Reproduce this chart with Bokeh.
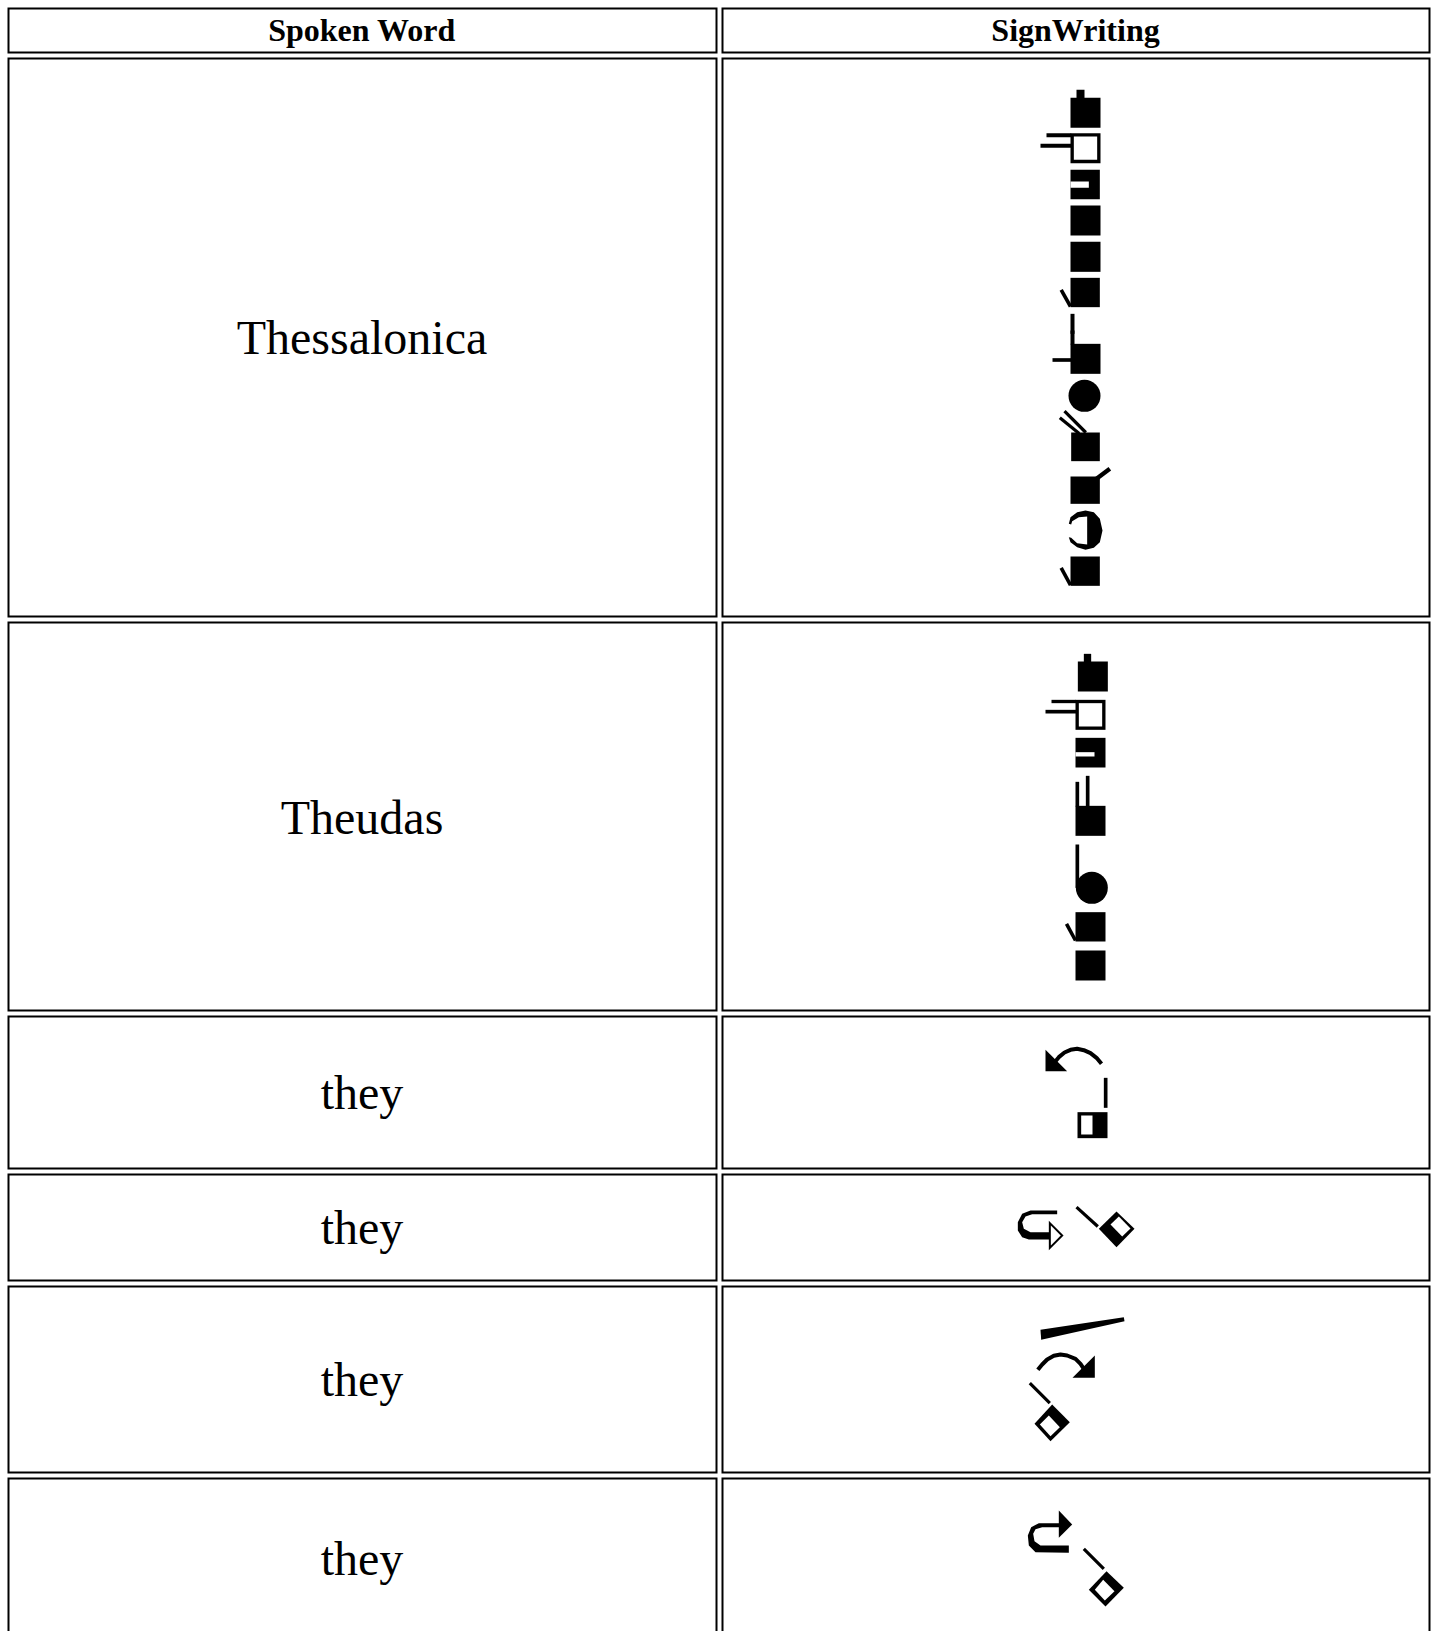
from bokeh.plotting import figure
from bokeh.embed import file_html
from bokeh.resources import INLINE
from bokeh.core.properties import value

# ---- table content ----
headers = ["Spoken Word", "SignWriting"]
words = ["Thessalonica", "Theudas", "they", "they", "they", "they"]
word_baselines = [337, 817, 1092, 1227, 1379, 1558]
header_baseline = 29
col_edges = [(8, 716), (722, 1429)]
row_edges = [(8, 52), (58, 616), (622, 1010), (1016, 1168), (1174, 1280), (1286, 1472), (1478, 1680)]
border = 1  # half the 2px cell border

# ---- SignWriting marks as (origin, shapes) ----
# origin = crop origin; coordinates are 3x crop units
O1, O2, O3, O4, O5 = (980, 70), (980, 330), (1000, 640), (990, 1030), (1000, 1300)

squares = [  # origin, x0, y0, x1, y1
    (O1, 270, 82, 360, 172), (O1, 288, 58, 312, 84),
    (O1, 270, 188, 360, 278), (O1, 198, 188, 272, 200), (O1, 180, 220, 272, 232),
    (O1, 270, 298, 358, 386), (O1, 270, 405, 360, 495), (O1, 270, 514, 360, 604),
    (O1, 270, 622, 358, 710), (O1, 270, 730, 282, 790),
    (O2, 270, 0, 282, 42), (O2, 270, 40, 360, 130), (O2, 216, 83, 272, 94),
    (O2, 272, 306, 358, 392), (O2, 270, 438, 358, 520), (O2, 270, 678, 358, 766),
    (O3, 232, 63, 322, 153), (O3, 250, 40, 272, 65),
    (O3, 225, 178, 315, 268), (O3, 153, 178, 227, 188), (O3, 135, 208, 227, 219),
    (O3, 225, 292, 315, 381), (O3, 225, 496, 315, 586),
    (O3, 225, 424, 236, 498), (O3, 256, 406, 267, 498),
    (O3, 225, 612, 236, 742), (O3, 225, 815, 315, 903), (O3, 225, 930, 315, 1020),
    (O4, 261, 245, 351, 323), (O4, 340, 142, 351, 232),
]
white_squares = [
    (O1, 280, 198, 350, 268), (O1, 270, 333, 325, 352),
    (O3, 235, 188, 305, 258), (O3, 225, 335, 282, 348),
    (O4, 272, 255, 306, 312),
]
discs = [(O2, 312, 196, 48), (O3, 274, 742, 48)]
black_polys = [
    # crescent
    (O2, [(265, 580), (270, 560), (290, 545), (315, 540), (340, 545), (358, 565), (366, 600), (358, 635),
          (340, 652), (315, 658), (290, 650), (270, 635), (265, 620), (272, 622), (290, 638), (320, 642),
          (320, 558), (295, 560), (275, 572), (272, 582)]),
    # arrow heads
    (O4, [(165, 58), (165, 122), (230, 122)]),
    (O5, [(283, 165), (283, 232), (216, 232)]),
    (O5, [(175, 630), (215, 672), (175, 712)]),
    # wedge stroke
    (O5, [(120, 88), (370, 50), (372, 62), (122, 118)]),
    # U shapes
    (O4, [(200, 540), (120, 540), (95, 550), (82, 575), (82, 600), (95, 620), (115, 627), (178, 627), (178, 605),
          (120, 605), (100, 595), (95, 575), (105, 558), (125, 551), (200, 551)]),
    (O5, [(178, 668), (115, 668), (92, 680), (82, 705), (85, 735), (105, 755), (205, 757), (205, 735), (120, 735),
          (102, 722), (98, 700), (105, 686), (125, 680), (178, 680)]),
    # diamonds
    (O4, [(378, 543), (432, 595), (378, 650), (325, 595)]),
    (O5, [(155, 312), (208, 365), (150, 422), (102, 370)]),
    (O5, [(318, 812), (370, 862), (315, 918), (265, 868)]),
]
white_polys = [
    (O4, [(385, 558), (420, 594), (395, 618), (360, 582)]),
    (O5, [(118, 372), (150, 407), (178, 380), (145, 345)]),
    (O5, [(283, 868), (313, 900), (342, 872), (308, 838)]),
]
outline_polys = [
    (O4, [(178, 578), (215, 615), (178, 652)]),
]
strokes = [  # origin, width px, points
    (O1, 3.6, [(242, 658), (270, 708)]),
    (O2, 3.2, [(238, 262), (296, 309)]),
    (O2, 3.2, [(252, 242), (316, 306)]),
    (O2, 4.4, [(345, 447), (388, 415)]),
    (O2, 3.6, [(242, 712), (270, 764)]),
    (O3, 3.6, [(198, 850), (225, 900)]),
    (O4, 4, [(333, 100), (318, 82), (300, 68), (280, 59), (260, 55), (240, 58), (222, 66), (205, 80), (195, 92)]),
    (O4, 3.2, [(258, 530), (322, 588)]),
    (O5, 4, [(112, 208), (125, 192), (140, 177), (160, 166), (180, 162), (200, 165), (225, 175), (240, 190), (250, 205)]),
    (O5, 3.2, [(88, 248), (148, 308)]),
    (O5, 3.2, [(250, 745), (310, 805)]),
]


def px(origin, pts):
    return [origin[0] + a / 3 for a, _ in pts], [origin[1] + b / 3 for _, b in pts]


W, H = 1435, 1631
p = figure(width=W, height=H, x_range=(0, W), y_range=(H, 0), output_backend="svg",
           toolbar_location=None, min_border=0, outline_line_color=None)
p.axis.visible = False
p.grid.visible = False
p.background_fill_color = "white"
p.border_fill_color = "white"

# cells: a black box with a white box inside keeps the 2px borders on whole pixels
lefts, rights, tops, bottoms = [], [], [], []
for t, b in row_edges:
    for l, r in col_edges:
        lefts.append(l); rights.append(r); tops.append(t); bottoms.append(b)
p.quad(left=[v - border for v in lefts], right=[v + border for v in rights],
       top=[v - border for v in tops], bottom=[v + border for v in bottoms],
       fill_color="black", line_color=None)
p.quad(left=[v + border for v in lefts], right=[v - border for v in rights],
       top=[v + border for v in tops], bottom=[v - border for v in bottoms],
       fill_color="white", line_color=None)


def quads(items, colour):
    xa = [o[0] + a / 3 for o, a, _, _, _ in items]
    xb = [o[0] + c / 3 for o, _, _, c, _ in items]
    ya = [o[1] + b / 3 for o, _, b, _, _ in items]
    yb = [o[1] + d / 3 for o, _, _, _, d in items]
    p.quad(left=xa, right=xb, top=ya, bottom=yb, fill_color=colour, line_color=None)


def polys(items, colour):
    cs = [px(o, pts) for o, pts in items]
    p.patches([c[0] for c in cs], [c[1] for c in cs], fill_color=colour, line_color=None)


quads(squares, "black")
polys(black_polys, "black")
quads(white_squares, "white")
polys(white_polys, "white")
cs = [px(o, pts) for o, pts in outline_polys]
p.patches([c[0] for c in cs], [c[1] for c in cs], fill_color="white", line_color="black", line_width=2,
          line_join="miter")
p.circle(x=[o[0] + a / 3 for o, a, _, _ in discs], y=[o[1] + b / 3 for o, _, b, _ in discs],
         radius=[r / 3 for _, _, _, r in discs], fill_color="black", line_color=None)
for o, w, pts in strokes:
    xs, ys = px(o, pts)
    p.line(xs, ys, line_color="black", line_width=w, line_join="round")

# texts
centres = [(l + r) / 2 for l, r in col_edges]
p.text(x=[c - 0.5 for c in centres], y=[header_baseline] * 2, text=headers, text_font=value("Liberation Serif"),
       text_font_style="bold", text_font_size="32px", text_align="center", text_baseline="alphabetic",
       text_color="black")
p.text(x=[centres[0] - 0.5] * len(words), y=word_baselines, text=words, text_font=value("Liberation Serif"),
       text_font_size="48px", text_align="center", text_baseline="alphabetic", text_color="black")

open("out.html", "w").write(file_html(p, INLINE))
